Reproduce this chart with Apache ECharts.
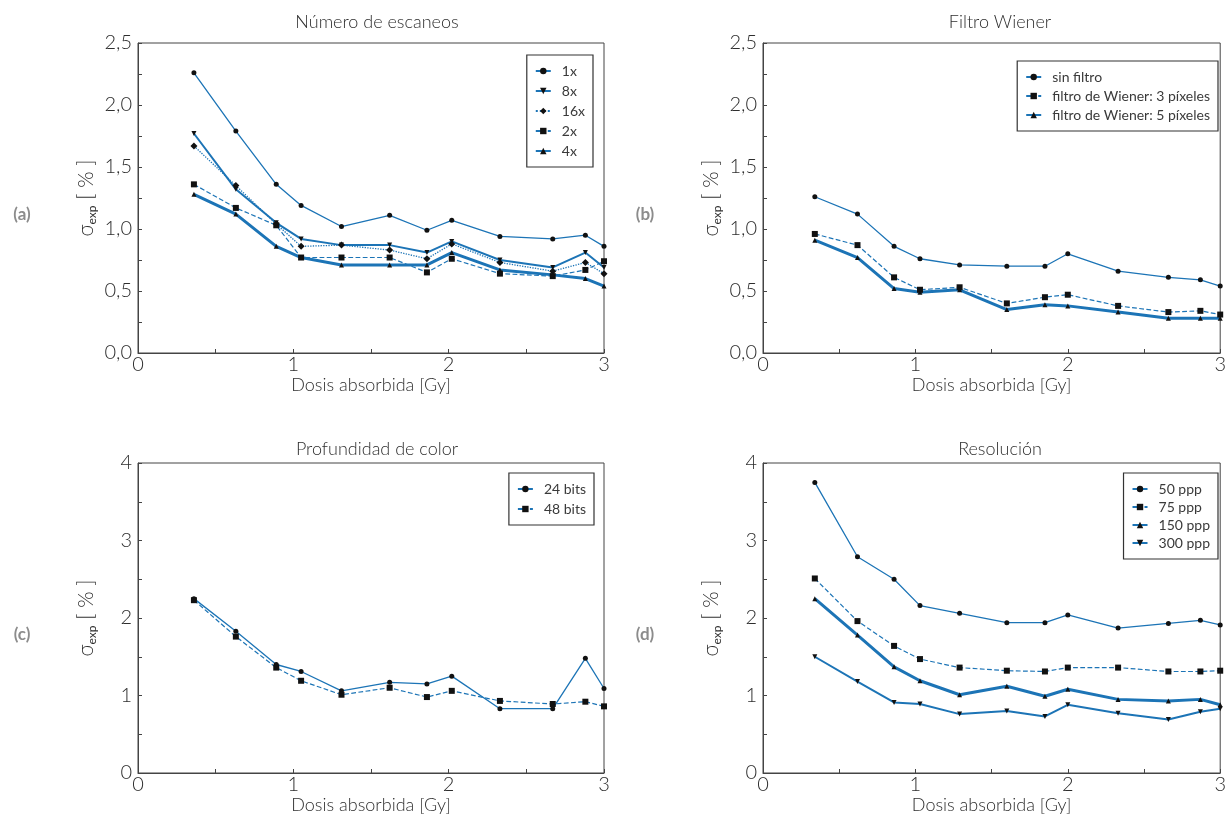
<!DOCTYPE html>
<html>
<head>
<meta charset="utf-8">
<script src="https://cdn.jsdelivr.net/npm/echarts@6/dist/echarts.min.js"></script>
<style>
  html, body { margin: 0; padding: 0; background: #fff; }
  #chart { width: 1229px; height: 831px; }
</style>
</head>
<body>
<div id="chart"></div>
<script>
// dose positions (left column / right column read separately)
const dosesLeft = [0.36, 0.63, 0.89, 1.05, 1.31, 1.62, 1.86, 2.02, 2.33, 2.67, 2.88, 3.0];
const dosesRight = [0.34, 0.62, 0.86, 1.03, 1.29, 1.60, 1.85, 2.00, 2.33, 2.66, 2.87, 3.0];

// (a) Número de escaneos
const scan1x = [2.26, 1.79, 1.36, 1.19, 1.02, 1.11, 0.99, 1.07, 0.94, 0.92, 0.95, 0.86];
const scan8x = [1.77, 1.32, 1.05, 0.92, 0.87, 0.87, 0.81, 0.90, 0.75, 0.69, 0.81, 0.69];
const scan16x = [1.67, 1.35, 1.04, 0.86, 0.87, 0.83, 0.76, 0.88, 0.73, 0.66, 0.73, 0.64];
const scan2x = [1.36, 1.17, 1.03, 0.77, 0.77, 0.77, 0.65, 0.76, 0.64, 0.62, 0.67, 0.74];
const scan4x = [1.28, 1.12, 0.86, 0.77, 0.71, 0.71, 0.71, 0.81, 0.67, 0.63, 0.60, 0.54];

// (b) Filtro Wiener
const sinFiltro = [1.26, 1.12, 0.86, 0.76, 0.71, 0.70, 0.70, 0.80, 0.66, 0.61, 0.59, 0.54];
const wiener3 = [0.96, 0.87, 0.61, 0.51, 0.53, 0.40, 0.45, 0.47, 0.38, 0.33, 0.34, 0.31];
const wiener5 = [0.91, 0.77, 0.52, 0.49, 0.51, 0.35, 0.39, 0.38, 0.33, 0.28, 0.28, 0.28];

// (c) Profundidad de color
const bits24 = [2.25, 1.83, 1.40, 1.31, 1.06, 1.17, 1.15, 1.25, 0.83, 0.83, 1.48, 1.09];
const bits48 = [2.23, 1.76, 1.36, 1.19, 1.01, 1.10, 0.98, 1.06, 0.93, 0.89, 0.92, 0.86];

// (d) Resolución
const ppp50 = [3.75, 2.79, 2.50, 2.16, 2.06, 1.94, 1.94, 2.04, 1.87, 1.93, 1.97, 1.91];
const ppp75 = [2.51, 1.96, 1.64, 1.47, 1.36, 1.32, 1.31, 1.36, 1.36, 1.31, 1.31, 1.32];
const ppp150 = [2.25, 1.78, 1.37, 1.19, 1.01, 1.12, 0.99, 1.08, 0.95, 0.93, 0.95, 0.88];
const ppp300 = [1.50, 1.18, 0.91, 0.89, 0.76, 0.80, 0.73, 0.88, 0.77, 0.69, 0.79, 0.83];

const titles = ['Número de escaneos', 'Filtro Wiener', 'Profundidad de color', 'Resolución'];
const panelTags = ['(a)', '(b)', '(c)', '(d)'];
const xTicks = [0, 1, 2, 3];

const BLUE = '#1c74b6';
const AXIS = '#444';
const FONT = 'Lato, "Liberation Sans", sans-serif';
const TXT = '#2e2e2e';

const chart = echarts.init(document.getElementById('chart'));

const grids = [
  { left: 138, top: 43, width: 466, height: 310 },
  { left: 763, top: 43, width: 463, height: 310 },
  { left: 138, top: 463, width: 466, height: 310 },
  { left: 763, top: 463, width: 463, height: 310 }
].map(g => Object.assign(g, { show: true, borderColor: AXIS, borderWidth: 1, backgroundColor: 'transparent' }));

function xAxis(i) {
  return {
    gridIndex: i, type: 'value', min: 0, max: 3, interval: 1,
    name: 'Dosis absorbida [Gy]', nameLocation: 'middle', nameGap: 12,
    nameTextStyle: { fontFamily: FONT, fontSize: 18, fontWeight: 300, color: TXT },
    axisLine: { lineStyle: { color: AXIS } },
    axisTick: { inside: true, length: 4, lineStyle: { color: AXIS } },
    minorTick: { show: true, splitNumber: 2, length: 4, lineStyle: { color: AXIS } },
    axisLabel: { margin: 2, fontFamily: FONT, fontSize: 20, fontWeight: 300, color: TXT,
      formatter: v => (xTicks.indexOf(v) >= 0 ? String(v) : '') },
    splitLine: { show: false }
  };
}

function yAxis(i, max, interval, decimals) {
  return {
    gridIndex: i, type: 'value', min: 0, max: max, interval: interval,
    name: '{s|σ}{sub|exp}{s| [ % ]}', nameLocation: 'middle', nameGap: 40,
    nameTextStyle: {
      rich: {
        s: { fontFamily: FONT, fontSize: 21, fontWeight: 300, color: TXT, lineHeight: 24 },
        sub: { fontFamily: FONT, fontSize: 12, color: TXT, lineHeight: 24, verticalAlign: 'bottom', padding: [10, 0, 0, 0] }
      }
    },
    axisLine: { lineStyle: { color: AXIS } },
    axisTick: { inside: true, length: 4, lineStyle: { color: AXIS } },
    minorTick: { show: true, splitNumber: 2, length: 4, lineStyle: { color: AXIS } },
    axisLabel: { margin: 6, fontFamily: FONT, fontSize: 20, fontWeight: 300, color: TXT,
      formatter: v => v.toFixed(decimals).replace('.', ',') },
    splitLine: { show: false }
  };
}

function line(name, doses, values, idx, opts) {
  return Object.assign({
    name: name, type: 'line', xAxisIndex: idx, yAxisIndex: idx,
    data: doses.map((d, k) => [d, values[k]]),
    clip: false, showSymbol: true, symbolSize: 5,
    itemStyle: { color: '#111' },
    lineStyle: { color: BLUE, width: 1.3, type: 'solid' },
    emphasis: { disabled: true },
    z: 3
  }, opts);
}

const series = [
  line('1x', dosesLeft, scan1x, 0, { symbol: 'circle' }),
  line('8x', dosesLeft, scan8x, 0, { symbol: 'triangle', symbolRotate: 180, lineStyle: { color: BLUE, width: 2 } }),
  line('16x', dosesLeft, scan16x, 0, { symbol: 'diamond', symbolSize: 7, lineStyle: { color: BLUE, width: 1.3, type: 'dotted' } }),
  line('2x', dosesLeft, scan2x, 0, { symbol: 'rect', symbolSize: 6, lineStyle: { color: BLUE, width: 1.2, type: 'dashed' } }),
  line('4x', dosesLeft, scan4x, 0, { symbol: 'triangle', lineStyle: { color: BLUE, width: 3 } }),

  line('sin filtro', dosesRight, sinFiltro, 1, { symbol: 'circle' }),
  line('filtro de Wiener: 3 píxeles', dosesRight, wiener3, 1, { symbol: 'rect', symbolSize: 6, lineStyle: { color: BLUE, width: 1.2, type: 'dashed' } }),
  line('filtro de Wiener: 5 píxeles', dosesRight, wiener5, 1, { symbol: 'triangle', lineStyle: { color: BLUE, width: 3 } }),

  line('24 bits', dosesLeft, bits24, 2, { symbol: 'circle' }),
  line('48 bits', dosesLeft, bits48, 2, { symbol: 'rect', symbolSize: 6, lineStyle: { color: BLUE, width: 1.2, type: 'dashed' } }),

  line('50 ppp', dosesRight, ppp50, 3, { symbol: 'circle' }),
  line('75 ppp', dosesRight, ppp75, 3, { symbol: 'rect', symbolSize: 6, lineStyle: { color: BLUE, width: 1.2, type: 'dashed' } }),
  line('150 ppp', dosesRight, ppp150, 3, { symbol: 'triangle', lineStyle: { color: BLUE, width: 3 } }),
  line('300 ppp', dosesRight, ppp300, 3, { symbol: 'triangle', symbolRotate: 180, lineStyle: { color: BLUE, width: 2 } })
];

function legend(names, right, top, gap) {
  return {
    data: names, orient: 'vertical', right: right, top: top,
    borderColor: '#333', borderWidth: 1.2, padding: [9, 8, 9, 8],
    itemWidth: 15, itemHeight: 8, itemGap: gap, selectedMode: false,
    textStyle: { fontFamily: FONT, fontSize: 14, color: '#3a3a3a', padding: [0, 0, 0, 6] }
  };
}

const option = {
  animation: false,
  backgroundColor: '#fff',
  title: [
    { text: titles[0], left: 372, top: 8 },
    { text: titles[1], left: 995, top: 8 },
    { text: titles[2], left: 372, top: 435 },
    { text: titles[3], left: 995, top: 435 }
  ].map(t => Object.assign(t, { textAlign: 'center', textStyle: { fontFamily: FONT, fontSize: 18, fontWeight: 300, color: TXT } })),
  grid: grids,
  xAxis: [0, 1, 2, 3].map(xAxis),
  yAxis: [yAxis(0, 2.5, 0.5, 1), yAxis(1, 2.5, 0.5, 1), yAxis(2, 4, 1, 0), yAxis(3, 4, 1, 0)],
  legend: [
    legend(['1x', '8x', '16x', '2x', '4x'], 636, 55, 6),
    legend(['sin filtro', 'filtro de Wiener: 3 píxeles', 'filtro de Wiener: 5 píxeles'], 11, 61, 5),
    legend(['24 bits', '48 bits'], 635, 473, 6),
    legend(['50 ppp', '75 ppp', '150 ppp', '300 ppp'], 11, 473, 4)
  ],
  graphic: [
    [22, 215], [645, 215], [22, 635], [645, 635]
  ].map((p, i) => ({
    type: 'text', x: p[0], y: p[1], z: 10,
    style: { text: panelTags[i], font: 'bold 17px Lato, sans-serif', fill: '#8c8c8c', align: 'center', verticalAlign: 'middle' }
  })),
  series: series
};

chart.setOption(option);
</script>
</body>
</html>
